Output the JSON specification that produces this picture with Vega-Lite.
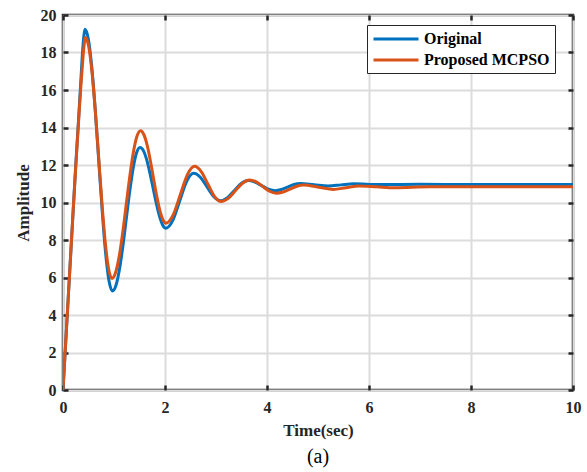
{
  "$schema": "https://vega.github.io/schema/vega-lite/v6.json",
  "width": 510,
  "height": 375,
  "autosize": {"type": "none"},
  "padding": {"left": 63, "top": 15, "right": 14, "bottom": 82},
  "background": "white",
  "title": {"text": "(a)", "orient": "bottom", "font": "Liberation Serif", "fontSize": 20, "fontWeight": "normal", "color": "#000000", "offset": 9},
  "config": {
    "view": {"stroke": "#262626", "strokeWidth": 2.5},
    "axis": {
      "labelFont": "Liberation Serif", "labelFontWeight": "bold", "labelFontSize": 16, "labelColor": "#262626",
      "titleFont": "Liberation Serif", "titleFontWeight": "bold", "titleFontSize": 17, "titleColor": "#262626",
      "domain": false, "gridColor": "#dcdcdc", "gridWidth": 2, "gridOpacity": 1,
      "tickColor": "#262626", "tickWidth": 2.5, "tickSize": -5, "labelFlush": false
    },
    "legend": {"labelFont": "Liberation Serif", "labelFontWeight": "bold", "labelFontSize": 16, "labelColor": "#000000"}
  },
  "data": {"values": [
    {"t": 0, "v": 0, "s": "Original"},
    {"t": 0.05, "v": 2.4, "s": "Original"},
    {"t": 0.1, "v": 4.8, "s": "Original"},
    {"t": 0.15, "v": 7.2, "s": "Original"},
    {"t": 0.2, "v": 9.6, "s": "Original"},
    {"t": 0.25, "v": 12.0, "s": "Original"},
    {"t": 0.3, "v": 14.2, "s": "Original"},
    {"t": 0.35, "v": 16.5, "s": "Original"},
    {"t": 0.38, "v": 17.9, "s": "Original"},
    {"t": 0.41, "v": 18.9, "s": "Original"},
    {"t": 0.43, "v": 19.24, "s": "Original"},
    {"t": 0.4975, "v": 18.71, "s": "Original"},
    {"t": 0.565, "v": 17.2, "s": "Original"},
    {"t": 0.6325, "v": 14.93, "s": "Original"},
    {"t": 0.7, "v": 12.26, "s": "Original"},
    {"t": 0.7675, "v": 9.59, "s": "Original"},
    {"t": 0.835, "v": 7.32, "s": "Original"},
    {"t": 0.9025, "v": 5.81, "s": "Original"},
    {"t": 0.97, "v": 5.28, "s": "Original"},
    {"t": 1.0375, "v": 5.57, "s": "Original"},
    {"t": 1.105, "v": 6.4, "s": "Original"},
    {"t": 1.1725, "v": 7.64, "s": "Original"},
    {"t": 1.24, "v": 9.11, "s": "Original"},
    {"t": 1.3075, "v": 10.58, "s": "Original"},
    {"t": 1.375, "v": 11.82, "s": "Original"},
    {"t": 1.4425, "v": 12.65, "s": "Original"},
    {"t": 1.51, "v": 12.94, "s": "Original"},
    {"t": 1.574, "v": 12.78, "s": "Original"},
    {"t": 1.6375, "v": 12.31, "s": "Original"},
    {"t": 1.701, "v": 11.61, "s": "Original"},
    {"t": 1.765, "v": 10.785, "s": "Original"},
    {"t": 1.829, "v": 9.96, "s": "Original"},
    {"t": 1.8925, "v": 9.26, "s": "Original"},
    {"t": 1.956, "v": 8.79, "s": "Original"},
    {"t": 2.02, "v": 8.63, "s": "Original"},
    {"t": 2.155, "v": 9.06, "s": "Original"},
    {"t": 2.29, "v": 10.095, "s": "Original"},
    {"t": 2.425, "v": 11.13, "s": "Original"},
    {"t": 2.56, "v": 11.56, "s": "Original"},
    {"t": 2.6925, "v": 11.35, "s": "Original"},
    {"t": 2.825, "v": 10.83, "s": "Original"},
    {"t": 2.9575, "v": 10.31, "s": "Original"},
    {"t": 3.09, "v": 10.1, "s": "Original"},
    {"t": 3.225, "v": 10.26, "s": "Original"},
    {"t": 3.36, "v": 10.635, "s": "Original"},
    {"t": 3.495, "v": 11.01, "s": "Original"},
    {"t": 3.63, "v": 11.17, "s": "Original"},
    {"t": 3.7625, "v": 11.09, "s": "Original"},
    {"t": 3.895, "v": 10.9, "s": "Original"},
    {"t": 4.0275, "v": 10.71, "s": "Original"},
    {"t": 4.16, "v": 10.63, "s": "Original"},
    {"t": 4.2825, "v": 10.69, "s": "Original"},
    {"t": 4.405, "v": 10.825, "s": "Original"},
    {"t": 4.5275, "v": 10.96, "s": "Original"},
    {"t": 4.65, "v": 11.02, "s": "Original"},
    {"t": 4.925, "v": 10.95, "s": "Original"},
    {"t": 5.2, "v": 10.88, "s": "Original"},
    {"t": 5.45, "v": 10.94, "s": "Original"},
    {"t": 5.7, "v": 11.0, "s": "Original"},
    {"t": 6.2, "v": 10.96, "s": "Original"},
    {"t": 7.0, "v": 10.97, "s": "Original"},
    {"t": 8.0, "v": 10.96, "s": "Original"},
    {"t": 10, "v": 10.96, "s": "Original"},
    {"t": 0, "v": 0, "s": "Proposed MCPSO"},
    {"t": 0.05, "v": 2.4, "s": "Proposed MCPSO"},
    {"t": 0.1, "v": 4.8, "s": "Proposed MCPSO"},
    {"t": 0.15, "v": 7.2, "s": "Proposed MCPSO"},
    {"t": 0.2, "v": 9.6, "s": "Proposed MCPSO"},
    {"t": 0.25, "v": 11.9, "s": "Proposed MCPSO"},
    {"t": 0.3, "v": 14.1, "s": "Proposed MCPSO"},
    {"t": 0.35, "v": 16.2, "s": "Proposed MCPSO"},
    {"t": 0.38, "v": 17.3, "s": "Proposed MCPSO"},
    {"t": 0.41, "v": 18.3, "s": "Proposed MCPSO"},
    {"t": 0.44, "v": 18.8, "s": "Proposed MCPSO"},
    {"t": 0.505, "v": 18.31, "s": "Proposed MCPSO"},
    {"t": 0.57, "v": 16.92, "s": "Proposed MCPSO"},
    {"t": 0.635, "v": 14.83, "s": "Proposed MCPSO"},
    {"t": 0.7, "v": 12.375, "s": "Proposed MCPSO"},
    {"t": 0.765, "v": 9.92, "s": "Proposed MCPSO"},
    {"t": 0.83, "v": 7.83, "s": "Proposed MCPSO"},
    {"t": 0.895, "v": 6.44, "s": "Proposed MCPSO"},
    {"t": 0.96, "v": 5.95, "s": "Proposed MCPSO"},
    {"t": 1.03, "v": 6.25, "s": "Proposed MCPSO"},
    {"t": 1.1, "v": 7.1, "s": "Proposed MCPSO"},
    {"t": 1.17, "v": 8.38, "s": "Proposed MCPSO"},
    {"t": 1.24, "v": 9.89, "s": "Proposed MCPSO"},
    {"t": 1.31, "v": 11.4, "s": "Proposed MCPSO"},
    {"t": 1.38, "v": 12.68, "s": "Proposed MCPSO"},
    {"t": 1.45, "v": 13.53, "s": "Proposed MCPSO"},
    {"t": 1.52, "v": 13.83, "s": "Proposed MCPSO"},
    {"t": 1.5825, "v": 13.64, "s": "Proposed MCPSO"},
    {"t": 1.645, "v": 13.11, "s": "Proposed MCPSO"},
    {"t": 1.7075, "v": 12.31, "s": "Proposed MCPSO"},
    {"t": 1.77, "v": 11.365, "s": "Proposed MCPSO"},
    {"t": 1.8325, "v": 10.42, "s": "Proposed MCPSO"},
    {"t": 1.895, "v": 9.62, "s": "Proposed MCPSO"},
    {"t": 1.9575, "v": 9.09, "s": "Proposed MCPSO"},
    {"t": 2.02, "v": 8.9, "s": "Proposed MCPSO"},
    {"t": 2.16, "v": 9.34, "s": "Proposed MCPSO"},
    {"t": 2.3, "v": 10.415, "s": "Proposed MCPSO"},
    {"t": 2.44, "v": 11.49, "s": "Proposed MCPSO"},
    {"t": 2.58, "v": 11.93, "s": "Proposed MCPSO"},
    {"t": 2.71, "v": 11.65, "s": "Proposed MCPSO"},
    {"t": 2.84, "v": 10.99, "s": "Proposed MCPSO"},
    {"t": 2.97, "v": 10.33, "s": "Proposed MCPSO"},
    {"t": 3.1, "v": 10.05, "s": "Proposed MCPSO"},
    {"t": 3.24, "v": 10.22, "s": "Proposed MCPSO"},
    {"t": 3.38, "v": 10.625, "s": "Proposed MCPSO"},
    {"t": 3.52, "v": 11.03, "s": "Proposed MCPSO"},
    {"t": 3.66, "v": 11.2, "s": "Proposed MCPSO"},
    {"t": 3.79, "v": 11.1, "s": "Proposed MCPSO"},
    {"t": 3.92, "v": 10.85, "s": "Proposed MCPSO"},
    {"t": 4.05, "v": 10.6, "s": "Proposed MCPSO"},
    {"t": 4.18, "v": 10.5, "s": "Proposed MCPSO"},
    {"t": 4.315, "v": 10.56, "s": "Proposed MCPSO"},
    {"t": 4.45, "v": 10.715, "s": "Proposed MCPSO"},
    {"t": 4.585, "v": 10.87, "s": "Proposed MCPSO"},
    {"t": 4.72, "v": 10.93, "s": "Proposed MCPSO"},
    {"t": 5.01, "v": 10.815, "s": "Proposed MCPSO"},
    {"t": 5.3, "v": 10.7, "s": "Proposed MCPSO"},
    {"t": 5.55, "v": 10.79, "s": "Proposed MCPSO"},
    {"t": 5.8, "v": 10.88, "s": "Proposed MCPSO"},
    {"t": 6.15, "v": 10.835, "s": "Proposed MCPSO"},
    {"t": 6.5, "v": 10.79, "s": "Proposed MCPSO"},
    {"t": 7.2, "v": 10.84, "s": "Proposed MCPSO"},
    {"t": 8.5, "v": 10.84, "s": "Proposed MCPSO"},
    {"t": 10, "v": 10.84, "s": "Proposed MCPSO"}
  ]},
  "layer": [
    {
      "mark": {"type": "line", "strokeWidth": 3, "interpolate": "monotone", "clip": true},
      "encoding": {
        "x": {"field": "t", "type": "quantitative", "scale": {"domain": [0, 10], "nice": false},
              "axis": {"title": "Time(sec)", "values": [0, 2, 4, 6, 8, 10], "labelPadding": 14, "titlePadding": 7, "grid": true}},
        "y": {"field": "v", "type": "quantitative", "scale": {"domain": [0, 20], "nice": false},
              "axis": {"title": "Amplitude", "values": [0, 2, 4, 6, 8, 10, 12, 14, 16, 18, 20], "labelPadding": 12, "titlePadding": 8, "grid": true}},
        "color": {"field": "s", "type": "nominal",
                  "scale": {"domain": ["Original", "Proposed MCPSO"], "range": ["#0072BD", "#D95319"]},
                  "legend": {"title": null, "orient": "none", "legendX": 304, "legendY": 10,
                             "strokeColor": "#262626", "fillColor": "white", "padding": 5, "rowPadding": 4,
                             "symbolType": "M-1,0h6", "symbolSize": 225, "symbolStrokeWidth": 3, "labelOffset": 34}}
      }
    },
    {
      "mark": {"type": "point", "opacity": 0},
      "encoding": {
        "x": {"field": "t", "type": "quantitative", "axis": {"orient": "top", "title": null, "labels": false, "grid": false, "values": [0, 2, 4, 6, 8, 10]}},
        "y": {"field": "v", "type": "quantitative", "axis": {"orient": "right", "title": null, "labels": false, "grid": false, "values": [0, 2, 4, 6, 8, 10, 12, 14, 16, 18, 20]}}
      }
    }
  ],
  "resolve": {"axis": {"x": "independent", "y": "independent"}}
}
